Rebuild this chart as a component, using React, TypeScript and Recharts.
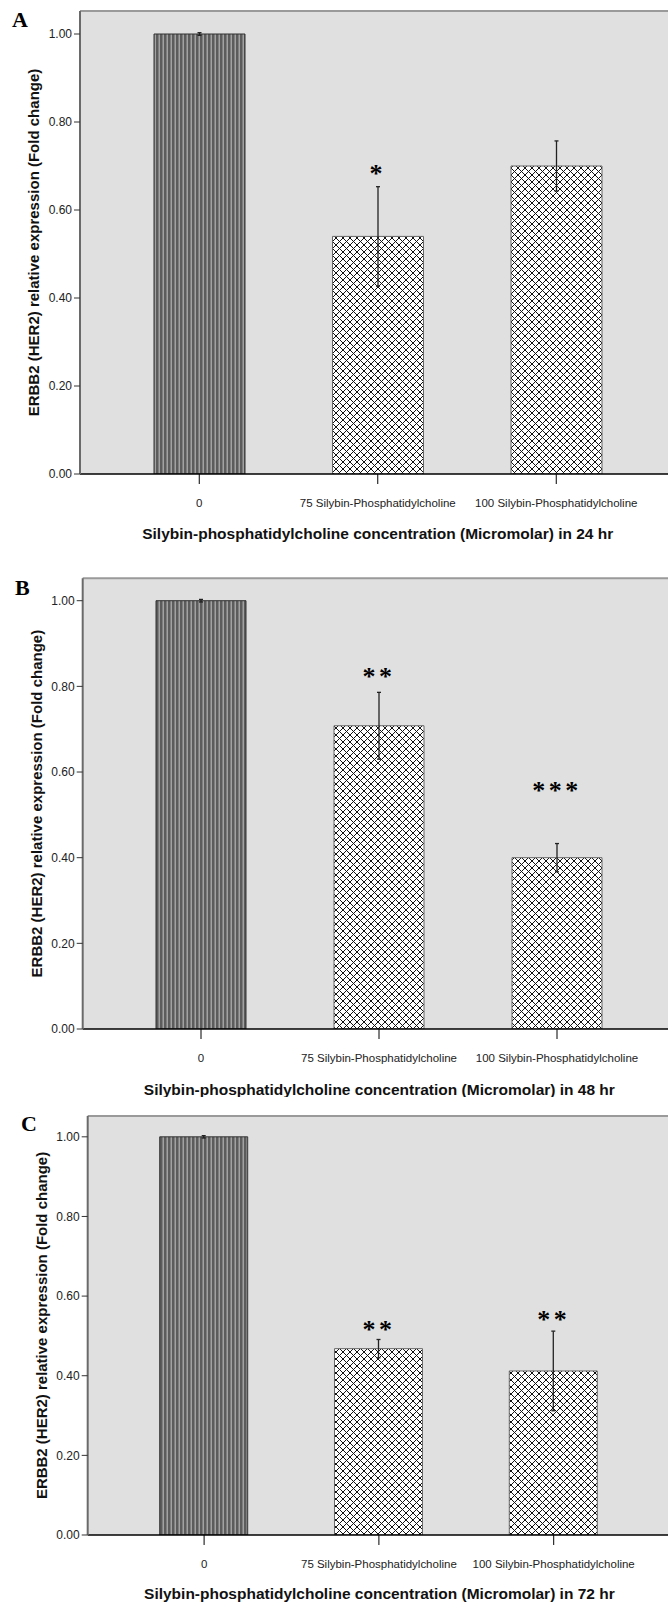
import React from "react";
import { Bar, CartesianGrid, Cell, ComposedChart, ErrorBar, ReferenceLine, Scatter, XAxis, YAxis } from "recharts";

const categories = ["0", "75 Silybin-Phosphatidylcholine", "100 Silybin-Phosphatidylcholine"];
const yTicks = [0, 0.2, 0.4, 0.6, 0.8, 1.0];
const Y_MAX = 1.0523;

// 24 hr
const mean24 = [1.0, 0.54, 0.7];
const err24 = [0.003, 0.113, 0.057];
const stars24 = ["", "*", ""];
const starPos24 = [null, 0.69, null];

// 48 hr
const mean48 = [1.0, 0.708, 0.4];
const err48 = [0.003, 0.078, 0.033];
const stars48 = ["", "**", "***"];
const starPos48 = [null, 0.83, 0.565];

// 72 hr
const mean72 = [1.0, 0.468, 0.412];
const err72 = [0.003, 0.023, 0.1];
const stars72 = ["", "**", "**"];
const starPos72 = [null, 0.525, 0.548];

const yTitle = "ERBB2 (HER2) relative expression (Fold change)";
const xTitle = (hr: string) => `Silybin-phosphatidylcholine concentration (Micromolar) in ${hr} hr`;

const SANS = "'Liberation Sans', Arial, sans-serif";
const SERIF = "'Liberation Serif', 'Times New Roman', serif";

const panels = [
  { key: "a", letter: "A", hr: "24", mean: mean24, err: err24, stars: stars24, starPos: starPos24,
    top: 0, marginTop: 11, plotH: 463, plotLeft: 80, padL: 30, band: 178.5, barSize: 91, titleOffset: 54, letterX: 12, letterY: 27 },
  { key: "b", letter: "B", hr: "48", mean: mean48, err: err48, stars: stars48, starPos: starPos48,
    top: 560, marginTop: 18.3, plotH: 450.7, plotLeft: 82.7, padL: 29.3, band: 178, barSize: 90, titleOffset: 55, letterX: 15, letterY: 595 },
  { key: "c", letter: "C", hr: "72", mean: mean72, err: err72, stars: stars72, starPos: starPos72,
    top: 1100, marginTop: 16, plotH: 419, plotLeft: 87.7, padL: 29, band: 174.8, barSize: 88, titleOffset: 53, letterX: 21, letterY: 1131 },
];

const STAR_FS = 26;

function StarShape(props: any) {
  const { cx, cy, payload } = props;
  if (!payload || !payload.starText || !Number.isFinite(cy)) return <g />;
  return (
    <text
      x={cx}
      y={cy + STAR_FS * 0.45}
      textAnchor="middle"
      fontFamily={SERIF}
      fontWeight="bold"
      fontSize={STAR_FS}
      letterSpacing={3.5}
      fill="#000"
    >
      {payload.starText}
    </text>
  );
}

function Panel({ p }: { p: (typeof panels)[number] }) {
  const rows = categories.map((name, i) => ({
    name,
    mean: p.mean[i],
    err: p.err[i],
    star: p.starPos[i],
    starText: p.stars[i],
  }));
  const padR = 30;
  const width = p.plotLeft + p.padL + p.band * 3 + padR;
  const xAxisH = 68;
  const height = p.marginTop + p.plotH + xAxisH;

  return (
    <div style={{ position: "absolute", left: 0, top: p.top }}>
      <ComposedChart width={width} height={height} data={rows} margin={{ top: p.marginTop, right: 0, bottom: 0, left: 0 }}>
        <defs>
          <pattern id={`stripes-${p.key}`} patternUnits="userSpaceOnUse" width={4} height={4}>
            <rect x={0} y={0} width={4} height={4} fill="#5c5c5c" />
            <rect x={2.5} y={0} width={1.5} height={4} fill="#a2a2a2" />
          </pattern>
          <pattern id={`hatch-${p.key}`} patternUnits="userSpaceOnUse" width={7} height={7}>
            <rect x={0} y={0} width={7} height={7} fill="#fff" />
            <path d="M0,0 L7,7 M7,0 L0,7" stroke="#111" strokeWidth={1} />
          </pattern>
        </defs>
        <CartesianGrid horizontal={false} vertical={false} fill="#e0e0e0" />
        <ReferenceLine y={Y_MAX} stroke="#9a9a9a" strokeWidth={2} />
        <XAxis
          dataKey="name"
          interval={0}
          padding={{ left: p.padL, right: padR }}
          height={xAxisH}
          tickSize={10}
          tickMargin={15}
          axisLine={{ stroke: "#000", strokeWidth: 1.5 }}
          tickLine={{ stroke: "#000", strokeWidth: 1 }}
          tick={{ fontSize: 11.5, fontFamily: SANS, fill: "#222" }}
          label={{
            value: xTitle(p.hr),
            position: "insideTop",
            offset: p.titleOffset,
            style: { fontSize: 15.5, fontWeight: "bold", fontFamily: SANS, fill: "#111" },
          }}
        />
        <YAxis
          domain={[0, Y_MAX]}
          ticks={yTicks}
          tickFormatter={(v: number) => v.toFixed(2)}
          width={p.plotLeft}
          tickSize={6}
          tickMargin={2}
          allowDataOverflow
          axisLine={{ stroke: "#6a6a6a", strokeWidth: 2 }}
          tickLine={{ stroke: "#333", strokeWidth: 1 }}
          tick={{ fontSize: 12, fontFamily: SANS, fill: "#222" }}
          label={{
            value: yTitle,
            angle: -90,
            position: "insideLeft",
            offset: p.plotLeft - 46,
            style: { textAnchor: "middle", fontSize: 15, fontWeight: "bold", fontFamily: SANS, fill: "#111" },
          }}
        />
        <Bar dataKey="mean" barSize={p.barSize} isAnimationActive={false}>
          {rows.map((r, i) => (
            <Cell
              key={r.name}
              fill={i === 0 ? `url(#stripes-${p.key})` : `url(#hatch-${p.key})`}
              stroke={i === 0 ? "#333" : "#666"}
              strokeWidth={1}
            />
          ))}
          <ErrorBar dataKey="err" width={2} stroke="#222" strokeWidth={1.3} direction="y" />
        </Bar>
        <Scatter dataKey="star" shape={<StarShape />} isAnimationActive={false} />
      </ComposedChart>
    </div>
  );
}

export default function App() {
  return (
    <div style={{ position: "absolute", left: 0, top: 0, width: 668, height: 1602, overflow: "hidden", background: "#fff" }}>
      {panels.map((p) => (
        <Panel key={p.key} p={p} />
      ))}
      <svg width={668} height={1602} style={{ position: "absolute", left: 0, top: 0, pointerEvents: "none" }}>
        {panels.map((p) => (
          <text key={p.key} x={p.letterX} y={p.letterY} fontFamily={SERIF} fontWeight="bold" fontSize={22} fill="#000">
            {p.letter}
          </text>
        ))}
      </svg>
    </div>
  );
}
